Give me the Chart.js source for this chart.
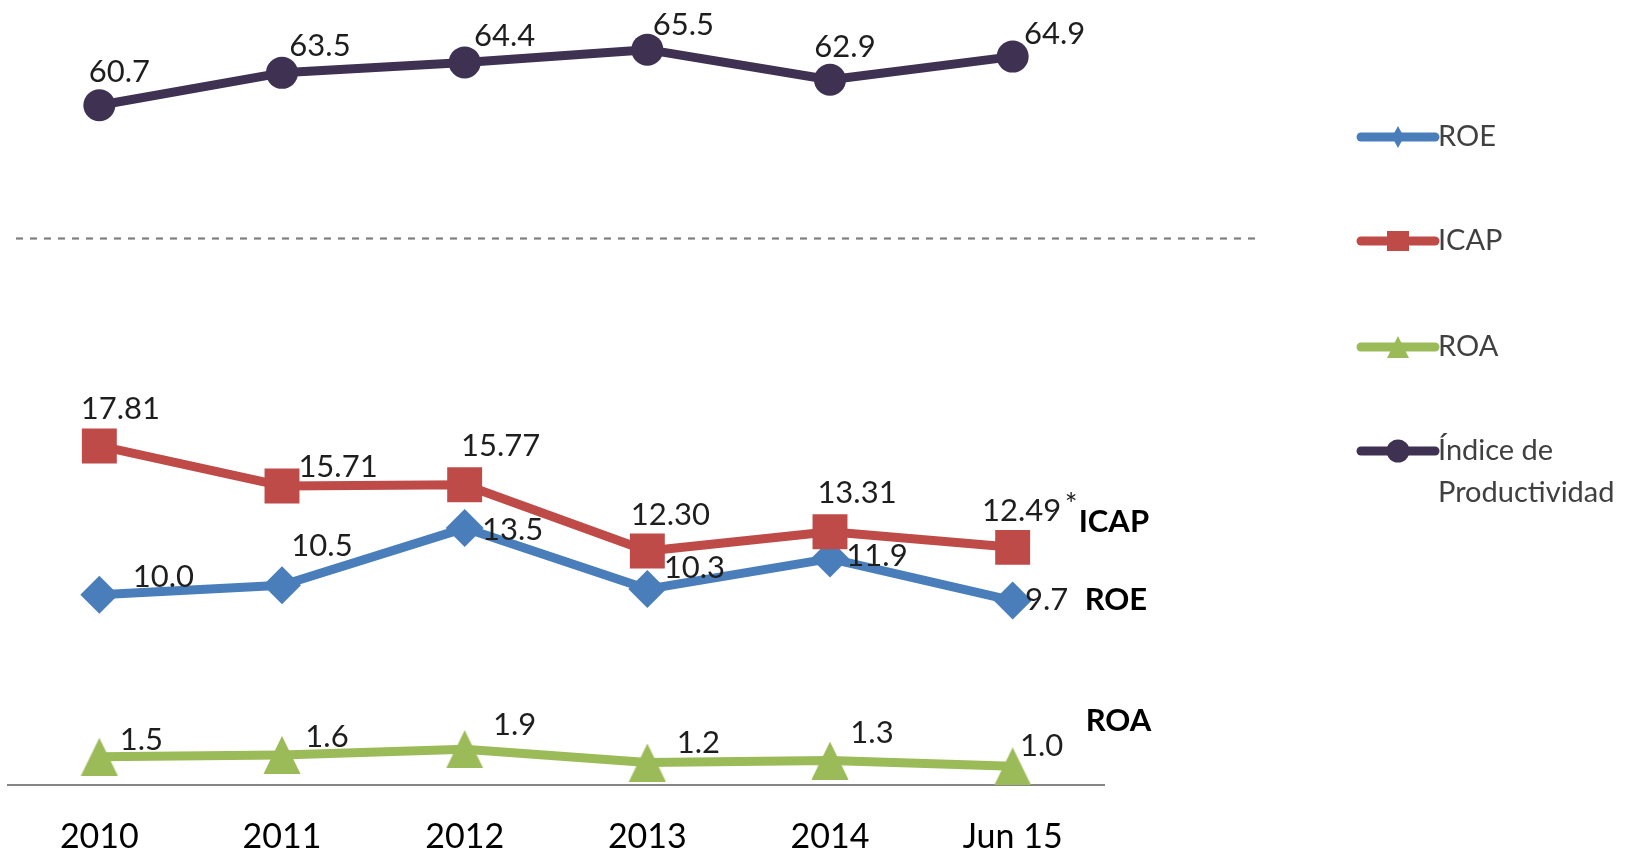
<!DOCTYPE html>
<html>
<head>
<meta charset="utf-8">
<script src="https://cdn.jsdelivr.net/npm/chart.js@4.4.0/dist/chart.umd.min.js"></script>
<style>
  html, body { margin: 0; padding: 0; background: #fff; }
  #wrap { position: relative; width: 1633px; height: 852px; }
</style>
</head>
<body>
<div id="wrap"><canvas id="chart" width="1633" height="852"></canvas></div>
<script>
const periods = ["2010", "2011", "2012", "2013", "2014", "Jun 15"];
const roe = [10.0, 10.5, 13.5, 10.3, 11.9, 9.7];
const icap = [17.81, 15.71, 15.77, 12.30, 13.31, 12.49];
const roa = [1.5, 1.6, 1.9, 1.2, 1.3, 1.0];
const productividad = [60.7, 63.5, 64.4, 65.5, 62.9, 64.9];

// where each value label sits, relative to its point (px)
const labelOffsets = {
  ROE: [[64, -18], [40, -39], [48, 2], [47, -21], [47, -3], [34, -1]],
  ICAP: [[21, -37], [56, -19], [36, -39], [23, -36], [27, -39], [9, -36]],
  ROA: [[42, -17], [45, -18], [50, -24], [51, -20], [42, -28], [29, -20]],
  prod: [[20, -33], [38, -27], [40, -26], [36, -25], [15, -33], [42, -23]],
};

const FONT = "Lato";

// Excel centres its triangle marker on the bounding box, not the centroid
function triangleMarker(color) {
  const c = document.createElement("canvas");
  c.width = 38;
  c.height = 38;
  const g = c.getContext("2d");
  g.fillStyle = color;
  g.beginPath();
  g.moveTo(19, 0);
  g.lineTo(37.5, 38);
  g.lineTo(0.5, 38);
  g.closePath();
  g.fill();
  return c;
}

const valueLabels = {
  id: "valueLabels",
  afterDatasetsDraw(chart) {
    const ctx = chart.ctx;
    ctx.save();
    ctx.font = `31px ${FONT}`;
    ctx.fillStyle = "#1e1e1e";
    ctx.textAlign = "center";
    ctx.textBaseline = "middle";
    chart.data.datasets.forEach((ds, i) => {
      const meta = chart.getDatasetMeta(i);
      meta.data.forEach((pt, j) => {
        const [dx, dy] = labelOffsets[ds.key][j];
        ctx.fillText(ds.data[j].toFixed(ds.decimals), pt.x + dx, pt.y + dy);
      });
    });
    ctx.restore();
  },
};

// dashed separator + bold series tags at the right end
const extras = {
  id: "extras",
  beforeDatasetsDraw(chart) {
    const { ctx, chartArea, scales } = chart;
    const y = Math.round(scales.y.getPixelForValue(28.7)) + 0.5;
    ctx.save();
    ctx.strokeStyle = "#7f7f7f";
    ctx.lineWidth = 2.2;
    ctx.setLineDash([7, 7]);
    ctx.beginPath();
    ctx.moveTo(chartArea.left + 8, y);
    ctx.lineTo(chartArea.right + 151, y);
    ctx.stroke();
    ctx.restore();
  },
  afterDraw(chart) {
    const ctx = chart.ctx;
    const last = (key) => {
      const idx = chart.data.datasets.findIndex((d) => d.key === key);
      const pts = chart.getDatasetMeta(idx).data;
      return pts[pts.length - 1];
    };
    ctx.save();
    ctx.fillStyle = "#000";
    ctx.textBaseline = "middle";
    ctx.textAlign = "left";
    ctx.font = `bold 31px ${FONT}`;
    const pI = last("ICAP"), pR = last("ROE"), pA = last("ROA");
    ctx.fillText("ICAP", pI.x + 66, pI.y - 25);
    ctx.fillText("ROE", pR.x + 72, pR.y - 1);
    ctx.fillText("ROA", pA.x + 73, pA.y - 45);
    ctx.font = `30px ${FONT}`;
    ctx.fillStyle = "#1e1e1e";
    ctx.fillText("*", pI.x + 52, pI.y - 42);
    ctx.restore();
  },
};

// Excel-like legend: thick line with marker in the middle
const sideLegend = {
  id: "sideLegend",
  afterDraw(chart) {
    const ctx = chart.ctx;
    const order = ["ROE", "ICAP", "ROA", "prod"];
    const rows = [137, 241, 347, 451];
    const x0 = 1361, x1 = 1435, xm = 1398;
    ctx.save();
    order.forEach((key, k) => {
      const ds = chart.data.datasets.find((d) => d.key === key);
      const y = rows[k];
      ctx.strokeStyle = ds.borderColor;
      ctx.fillStyle = ds.borderColor;
      ctx.lineWidth = 9;
      ctx.lineCap = "round";
      ctx.beginPath();
      ctx.moveTo(x0, y);
      ctx.lineTo(x1, y);
      ctx.stroke();
      ctx.beginPath();
      if (key === "ROE") {
        ctx.moveTo(xm, y - 11); ctx.lineTo(xm + 6, y); ctx.lineTo(xm, y + 11); ctx.lineTo(xm - 6, y);
      } else if (key === "ICAP") {
        ctx.rect(xm - 11, y - 10, 22, 20);
      } else if (key === "ROA") {
        ctx.moveTo(xm, y - 11); ctx.lineTo(xm + 11, y + 11); ctx.lineTo(xm - 11, y + 11);
      } else {
        ctx.arc(xm, y, 11.5, 0, Math.PI * 2);
      }
      ctx.closePath();
      ctx.fill();
      ctx.fillStyle = "#404040";
      ctx.font = `29px ${FONT}`;
      ctx.textBaseline = "middle";
      ds.label.split("\n").forEach((line, n) => ctx.fillText(line, 1438, y + n * 42));
    });
    ctx.restore();
  },
};

function build() {
  const line = (key, label, data, color, style, radius, axis, decimals, order) => ({
    key, label, data, decimals, order,
    yAxisID: axis,
    borderColor: color,
    backgroundColor: color,
    borderWidth: 9,
    borderJoinStyle: "round",
    borderCapStyle: "round",
    tension: 0,
    pointStyle: style,
    pointRadius: radius,
    pointHoverRadius: radius,
    pointBackgroundColor: color,
    pointBorderWidth: 0,
  });

  new Chart(document.getElementById("chart").getContext("2d"), {
    type: "line",
    data: {
      labels: periods,
      datasets: [
        line("ROE", "ROE", roe, "#4a7ebb", "rectRot", 19, "y", 1, 2),
        line("ICAP", "ICAP", icap, "#be4b48", "rect", 24.7, "y", 2, 1),
        line("ROA", "ROA", roa, "#9bbb59", triangleMarker("#9bbb59"), 19, "y", 1, 3),
        line("prod", "Índice de\nProductividad", productividad, "#3f3151", "circle", 16, "y1", 1, 0),
      ],
    },
    options: {
      responsive: false,
      animation: false,
      events: [],
      // x tick padding counts twice in the axis height, hence the negative bottom
      layout: { autoPadding: false, padding: { left: 8, right: 529, top: 23, bottom: -36 } },
      plugins: { legend: { display: false }, tooltip: { enabled: false } },
      scales: {
        x: {
          offset: true,
          grid: { display: false, drawTicks: false },
          border: { display: true, color: "#868686", width: 2 },
          ticks: { color: "#000", padding: 36, font: { family: FONT, size: 34, lineHeight: 0.9 } },
        },
        y: { display: false, min: 0, max: 40 },
        y1: { display: false, min: 2, max: 67.8 },
      },
    },
    plugins: [extras, valueLabels, sideLegend],
  });
}

document.fonts.load(`30px ${FONT}`).then(() => document.fonts.load(`bold 31px ${FONT}`)).then(build, build);
</script>
</body>
</html>
